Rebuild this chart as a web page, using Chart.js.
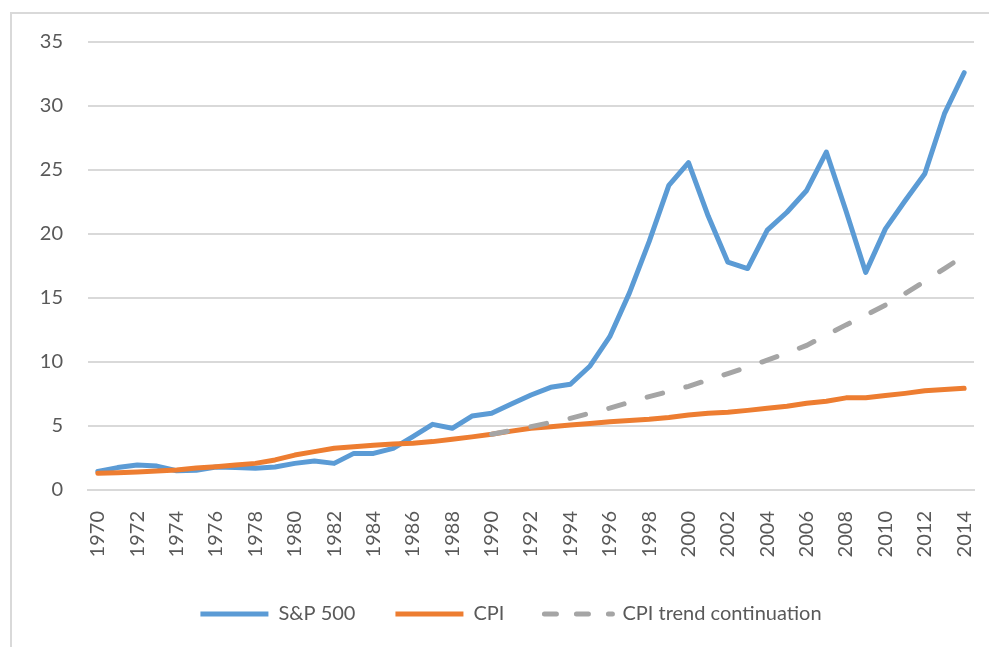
<!DOCTYPE html>
<html>
<head>
<meta charset="utf-8">
<script src="https://cdn.jsdelivr.net/npm/chart.js@4/dist/chart.umd.min.js"></script>
<style>
  html, body { margin: 0; padding: 0; background: #fff; }
  #frame { position: absolute; left: 10px; top: 12px; width: 990px; height: 650px; border-left: 2px solid #d9d9d9; border-top: 2px solid #d9d9d9; }
  #wrap { position: absolute; left: 0; top: 0; width: 989px; height: 647px; }
</style>
</head>
<body>
<div id="frame"></div>
<div id="wrap"><canvas id="chart"></canvas></div>
<script>
const years = [];
for (let y = 1970; y <= 2014; y++) years.push(String(y));

const sp500 = [1.45, 1.75, 1.95, 1.87, 1.5, 1.55, 1.8, 1.75, 1.7, 1.8, 2.08, 2.27, 2.08, 2.86, 2.86, 3.25,
               4.17, 5.13, 4.82, 5.78, 5.99, 6.72, 7.42, 8.02, 8.26, 9.69, 11.98, 15.4, 19.4, 23.8,
               25.57, 21.4, 17.8, 17.3, 20.3, 21.7, 23.4, 26.4, 21.8, 17.0, 20.4, 22.6, 24.7, 29.4, 32.6];

const cpi = [1.3, 1.35, 1.4, 1.48, 1.56, 1.72, 1.82, 1.95, 2.08, 2.35, 2.73, 3.0, 3.26, 3.38, 3.5, 3.6,
             3.65, 3.78, 3.96, 4.15, 4.35, 4.6, 4.82, 4.95, 5.08, 5.2, 5.34, 5.43, 5.52, 5.66,
             5.86, 6.0, 6.08, 6.22, 6.38, 6.55, 6.78, 6.93, 7.2, 7.2, 7.38, 7.55, 7.75, 7.85, 7.94];

const cpiTrend = [null, null, null, null, null, null, null, null, null, null, null, null, null, null, null, null,
                  null, null, null, null, 4.35, 4.65, 4.95, 5.27, 5.6, 6.0, 6.4, 6.85, 7.3, 7.7,
                  8.1, 8.6, 9.1, 9.6, 10.15, 10.7, 11.3, 12.1, 12.9, 13.65, 14.45, 15.35, 16.3, 17.3, 18.3];

const yTicks = [0, 5, 10, 15, 20, 25, 30, 35];

const textColor = '#595959';
const font = { family: 'Lato, "Open Sans", sans-serif', size: 20 };

// nudge the legend a bit to the right, like the original
const legendShift = {
    id: 'legendShift',
    afterLayout(chart) {
        if (chart.legend) { chart.legend.left += 6; chart.legend.right += 6; }
    }
};

new Chart(document.getElementById('chart'), {
    type: 'line',
    data: {
        labels: years,
        datasets: [
            { label: 'S&P 500', data: sp500, order: 3, borderColor: '#5b9bd5', backgroundColor: '#5b9bd5', borderWidth: 5, pointRadius: 0, tension: 0, borderCapStyle: 'round', borderJoinStyle: 'round' },
            { label: 'CPI', data: cpi, order: 2, borderColor: '#ed7d31', backgroundColor: '#ed7d31', borderWidth: 5, pointRadius: 0, tension: 0, borderCapStyle: 'round', borderJoinStyle: 'round' },
            { label: 'CPI trend continuation', data: cpiTrend, order: 1, borderColor: '#a5a5a5', backgroundColor: '#a5a5a5', borderWidth: 5, pointRadius: 0, tension: 0, borderDash: [16, 24], borderCapStyle: 'round', spanGaps: false }
        ]
    },
    plugins: [legendShift],
    options: {
        responsive: true, maintainAspectRatio: false, animation: false,
        layout: { padding: { left: 36, right: 15, top: 42, bottom: 13 } },
        plugins: {
            tooltip: { enabled: false },
            legend: {
                position: 'bottom',
                labels: {
                    color: textColor, font, padding: 40,
                    usePointStyle: true, pointStyle: 'line', pointStyleWidth: 68, boxHeight: 20,
                    sort: (a, b) => a.datasetIndex - b.datasetIndex,
                    generateLabels: chart => Chart.defaults.plugins.legend.labels.generateLabels(chart).map(l => {
                        l.pointStyle = 'line';
                        l.lineWidth = 5;
                        if (l.text === 'CPI trend continuation') { l.lineDash = [12, 20]; l.lineCap = 'round'; }
                        else l.lineCap = 'butt';
                        return l;
                    })
                }
            }
        },
        scales: {
            x: {
                offset: true,
                grid: { display: false, drawTicks: false },
                border: { color: '#d9d9d9', width: 2 },
                ticks: {
                    color: textColor, font, autoSkip: false, minRotation: 90, maxRotation: 90, padding: 21,
                    callback: function(v, i) { return i % 2 === 0 ? this.getLabelForValue(v) : ''; }
                },
                afterFit: s => { s.height = 74; s.paddingLeft = 0; s.paddingRight = 0; }
            },
            y: {
                min: 0, max: 35,
                afterBuildTicks: s => { s.ticks = yTicks.map(v => ({ value: v })); },
                grid: { color: '#d9d9d9', lineWidth: 2, drawTicks: false },
                border: { display: false },
                ticks: { color: textColor, font, padding: 25 },
                afterFit: s => { s.width = 52; }
            }
        }
    }
});
</script>
</body>
</html>
